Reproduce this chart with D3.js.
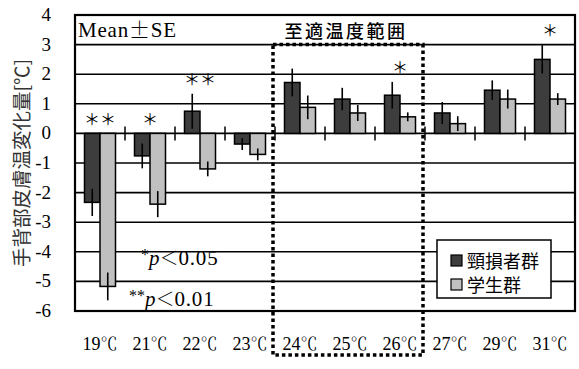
<!DOCTYPE html>
<html>
<head>
<meta charset="utf-8">
<script src="https://cdn.jsdelivr.net/npm/d3@7/dist/d3.min.js"></script>
<style>
  html, body { margin: 0; padding: 0; background: #fff; }
  svg { display: block; }
</style>
</head>
<body>
<svg id="chart" width="579" height="369"></svg>
<script>
// Change in dorsal hand skin temperature per room temperature, two groups
const categories = ["19℃", "21℃", "22℃", "23℃", "24℃", "25℃", "26℃", "27℃", "29℃", "31℃"];
const injuredMean = [-2.33, -0.76, 0.75, -0.36, 1.72, 1.16, 1.29, 0.69, 1.46, 2.50];
const injuredSE   = [0.46, 0.42, 0.59, 0.20, 0.47, 0.38, 0.45, 0.37, 0.33, 0.48];
const studentMean = [-5.17, -2.39, -1.20, -0.71, 0.88, 0.69, 0.56, 0.33, 1.16, 1.16];
const studentSE   = [0.47, 0.44, 0.25, 0.20, 0.40, 0.27, 0.15, 0.25, 0.32, 0.20];
const significance = ["**", "*", "**", "", "", "", "*", "", "", "*"];
const comfortRange = ["24℃", "26℃"];
const seriesNames = ["頸損者群", "学生群"];
const yTicks = [4, 3, 2, 1, 0, -1, -2, -3, -4, -5, -6];

const colors = ["#3d3d3d", "#c0c0c0"];
const SERIF = '"Liberation Serif", "Noto Serif CJK JP"';
const MINCHO = '"Noto Serif CJK JP"';
const GOTHIC = '"Noto Sans CJK JP"';

const svg = d3.select("#chart");
const plotLeft = 75, plotRight = 575, plotTop = 15, plotBottom = 311;

const x = d3.scaleBand().domain(categories).range([plotLeft, plotRight]).padding(0);
const inner = d3.scaleBand().domain([0, 1]).range([9.5, 40.5]).padding(0);
const y = d3.scaleLinear().domain([-6, 4]).range([plotBottom, plotTop]);

// horizontal grid lines
svg.append("g").selectAll("line").data(yTicks.filter(t => t !== 4 && t !== -6)).join("line")
  .attr("x1", plotLeft).attr("x2", plotRight)
  .attr("y1", d => y(d)).attr("y2", d => y(d))
  .attr("stroke", "#000").attr("stroke-width", 1.6);

// y tick labels
svg.append("g").selectAll("text").data(yTicks).join("text")
  .attr("x", 51).attr("y", d => y(d) + 6)
  .attr("text-anchor", "end")
  .style("font-family", SERIF).style("font-size", "19px")
  .text(d => d);

// y axis title
svg.append("text")
  .attr("transform", `translate(29,${(plotTop + plotBottom) / 2}) rotate(-90)`)
  .attr("text-anchor", "middle")
  .style("font-family", GOTHIC).style("font-size", "19.5px").attr("fill", "#333")
  .text("手背部皮膚温変化量[℃]");

// bars
const groups = svg.append("g").selectAll("g").data(categories).join("g")
  .attr("transform", d => `translate(${x(d)},0)`);

const pairs = (c, i) => [
  { s: 0, v: injuredMean[i], se: injuredSE[i] },
  { s: 1, v: studentMean[i], se: studentSE[i] }
];

groups.selectAll("rect").data(pairs).join("rect")
  .attr("x", d => inner(d.s))
  .attr("width", inner.bandwidth())
  .attr("y", d => y(Math.max(0, d.v)))
  .attr("height", d => Math.abs(y(d.v) - y(0)))
  .attr("fill", d => colors[d.s])
  .attr("stroke", "#000").attr("stroke-width", 1.5);

// error bars
groups.selectAll("line.err").data(pairs).join("line")
  .attr("class", "err")
  .attr("x1", d => inner(d.s) + inner.bandwidth() / 2)
  .attr("x2", d => inner(d.s) + inner.bandwidth() / 2)
  .attr("y1", d => y(d.v - d.se)).attr("y2", d => y(d.v + d.se))
  .attr("stroke", "#000").attr("stroke-width", 1.6);

// category boundary ticks on the zero line
svg.append("g").selectAll("line").data(categories.slice(1)).join("line")
  .attr("x1", d => x(d)).attr("x2", d => x(d))
  .attr("y1", y(0) - 7).attr("y2", y(0) + 7)
  .attr("stroke", "#000").attr("stroke-width", 1.5);

// significance marks above each pair
svg.append("g").selectAll("text").data(categories).join("text")
  .attr("x", d => x(d) + x.bandwidth() / 2)
  .attr("y", (d, i) => y(Math.max(0, injuredMean[i] + injuredSE[i], studentMean[i] + studentSE[i]) + 0.5) + 6)
  .attr("text-anchor", "middle")
  .attr("fill", "#000")
  .style("font-family", GOTHIC).style("font-size", "16px")
  .text((d, i) => significance[i].replace(/\*/g, "＊"));

// plot frame
svg.append("rect")
  .attr("x", plotLeft).attr("y", plotTop)
  .attr("width", plotRight - plotLeft).attr("height", plotBottom - plotTop)
  .attr("fill", "none").attr("stroke", "#000").attr("stroke-width", 2.2);

// header row: summary statistic note
const mean = svg.append("text")
  .attr("x", 78).attr("y", 37)
  .style("font-family", SERIF).style("font-size", "21px").attr("letter-spacing", 0.8);
mean.append("tspan").text("Mean");
mean.append("tspan").style("font-family", MINCHO).text("±");
mean.append("tspan").text("SE");

const zoneX0 = x(comfortRange[0]) - 2;
const zoneX1 = x(comfortRange[1]) + x.bandwidth() - 2;

svg.append("text")
  .attr("x", (zoneX0 + zoneX1) / 2 - 2).attr("y", 38)
  .attr("text-anchor", "middle")
  .style("font-family", GOTHIC).style("font-size", "18px").style("font-weight", 500)
  .attr("letter-spacing", 2.5)
  .text("至適温度範囲");

// comfort range dotted box
svg.append("rect")
  .attr("x", zoneX0).attr("y", y(3))
  .attr("width", zoneX1 - zoneX0).attr("height", 355 - y(3))
  .attr("fill", "none").attr("stroke", "#000")
  .attr("stroke-width", 3.5).attr("stroke-dasharray", "3.5,3");

// x category labels
const xl = svg.append("g").selectAll("text").data(categories).join("text")
  .attr("x", d => x(d) + x.bandwidth() / 2).attr("y", 350)
  .attr("text-anchor", "middle")
  .style("font-family", SERIF).style("font-size", "18px");
xl.append("tspan").text(d => d.replace("℃", ""));
xl.append("tspan").style("font-family", MINCHO).style("font-size", "17px").text("℃");

// p-value notes
[["*", "0.05", 141, 265], ["**", "0.01", 129, 306]].forEach(([st, v, px, py]) => {
  const t = svg.append("text").attr("x", px).attr("y", py)
    .style("font-family", SERIF).style("font-size", "21px");
  t.append("tspan").style("font-size", "16px").attr("dy", -5).text(st);
  t.append("tspan").attr("dy", 5).style("font-style", "italic").text("p");
  t.append("tspan").style("font-family", MINCHO).style("font-size", "19px").text("＜");
  t.append("tspan").attr("letter-spacing", 0.8).text(v);
});

// legend
const lg = svg.append("g");
lg.append("rect").attr("x", 437).attr("y", 240).attr("width", 114).attr("height", 58)
  .attr("fill", "#fff").attr("stroke", "#000").attr("stroke-width", 1.5);
seriesNames.forEach((name, i) => {
  const cy = 261 + i * 24;
  lg.append("rect").attr("x", 451).attr("y", cy - 6).attr("width", 11).attr("height", 11)
    .attr("fill", colors[i]).attr("stroke", "#000").attr("stroke-width", 1.2);
  lg.append("text").attr("x", 467).attr("y", cy + 7)
    .style("font-family", GOTHIC).style("font-size", "18px")
    .text(name);
});
</script>
</body>
</html>
